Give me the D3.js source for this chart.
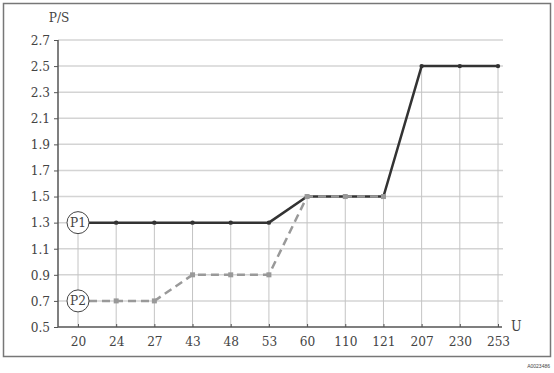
<!DOCTYPE html>
<html>
<head>
<meta charset="utf-8">
<script src="https://cdn.jsdelivr.net/npm/d3@7"></script>
<style>
  body { margin: 0; background: #fff; }
  text { font-family: "DejaVu Serif Condensed", "DejaVu Serif", serif; fill: #444; }
</style>
</head>
<body>
<div id="chart"></div>
<script>
// categories on the U axis
const categories = ["20", "24", "27", "43", "48", "53", "60", "110", "121", "207", "230", "253"];
const yTicks = [0.5, 0.7, 0.9, 1.1, 1.3, 1.5, 1.7, 1.9, 2.1, 2.3, 2.5, 2.7];
// series values
const p1Values = [1.3, 1.3, 1.3, 1.3, 1.3, 1.3, 1.5, 1.5, 1.5, 2.5, 2.5, 2.5];
const p2Values = [0.7, 0.7, 0.7, 0.9, 0.9, 0.9, 1.5, 1.5, 1.5];

var width = 554, height = 373;

var svg = d3.select("#chart")
    .append("svg")
    .attr("width", width)
    .attr("height", height);

// outer frame
svg.append("rect")
    .attr("x", 3.5)
    .attr("y", 3.5)
    .attr("width", 547)
    .attr("height", 353)
    .attr("fill", "none")
    .attr("stroke", "#777")
    .attr("stroke-width", 1.5);

svg.append("text")
    .attr("x", 550)
    .attr("y", 368)
    .attr("text-anchor", "end")
    .style("font-family", "Liberation Sans, sans-serif")
    .style("font-size", "5px")
    .text("A0023486");

var x = d3.scalePoint()
    .domain(categories)
    .range([78, 498]);

var y = d3.scaleLinear()
    .domain([0.5, 2.7])
    .range([327, 40]);

// horizontal grid
svg.append("g")
    .selectAll("line")
    .data(yTicks.slice(1))
    .join("line")
    .attr("x1", 58)
    .attr("x2", 503)
    .attr("y1", d => y(d))
    .attr("y2", d => y(d))
    .attr("stroke", "#d4d4d4")
    .attr("stroke-width", 1.5);

// vertical drop lines from top series
svg.append("g")
    .selectAll("line")
    .data(categories)
    .join("line")
    .attr("x1", d => x(d))
    .attr("x2", d => x(d))
    .attr("y1", (d, i) => y(p1Values[i]))
    .attr("y2", y(0.5))
    .attr("stroke", "#c4c4c4")
    .attr("stroke-width", 1);

// axes
var xAxis = d3.axisBottom(x).tickSize(4).tickPadding(5);
var gx = svg.append("g")
    .attr("transform", "translate(0," + y(0.5) + ")")
    .call(xAxis);
gx.select(".domain").attr("d", "M58,0H502").attr("stroke", "#555").attr("stroke-width", 1.5);
gx.selectAll(".tick line").attr("y1", -3).attr("y2", 0).attr("stroke", "#555");
gx.selectAll("text").style("font-size", "13.5px").attr("fill", "#444");

var yAxis = d3.axisLeft(y).tickValues(yTicks).tickFormat(d3.format(".1f")).tickSize(4).tickPadding(4);
var gy = svg.append("g")
    .attr("transform", "translate(58,0)")
    .call(yAxis);
gy.select(".domain").attr("d", "M0," + y(0.5) + "V" + y(2.7)).attr("stroke", "#555").attr("stroke-width", 1.5);
gy.selectAll(".tick line").attr("stroke", "#555");
gy.selectAll("text").style("font-size", "13.5px").attr("fill", "#444");

svg.append("text")
    .attr("x", 59)
    .attr("y", 22)
    .attr("text-anchor", "middle")
    .style("font-size", "13.5px")
    .text("P/S");

svg.append("text")
    .attr("x", 511)
    .attr("y", 331)
    .style("font-size", "14px")
    .text("U");

var line = d3.line()
    .x(d => d.x)
    .y(d => d.y);

const circleR = 11;

// P1 solid series
var p1Points = p1Values.map((v, i) => ({ x: x(categories[i]), y: y(v) }));
var p1Path = p1Points.slice();
p1Path[0] = { x: p1Points[0].x + circleR, y: p1Points[0].y };
svg.append("path")
    .attr("d", line(p1Path))
    .attr("fill", "none")
    .attr("stroke", "#333")
    .attr("stroke-width", 2.5);
svg.append("g")
    .selectAll("circle")
    .data(p1Points.slice(1))
    .join("circle")
    .attr("cx", d => d.x)
    .attr("cy", d => d.y)
    .attr("r", 2.2)
    .attr("fill", "#333");

// P2 dashed series (drawn on top)
var p2Points = p2Values.map((v, i) => ({ x: x(categories[i]), y: y(v) }));
var p2Path = p2Points.slice();
p2Path[0] = { x: p2Points[0].x + circleR, y: p2Points[0].y };
svg.append("path")
    .attr("d", line(p2Path))
    .attr("fill", "none")
    .attr("stroke", "#999")
    .attr("stroke-width", 2.5)
    .attr("stroke-dasharray", "8,5");
svg.append("g")
    .selectAll("rect")
    .data(p2Points.slice(1))
    .join("rect")
    .attr("x", d => d.x - 2.5)
    .attr("y", d => d.y - 2.5)
    .attr("width", 5)
    .attr("height", 5)
    .attr("fill", "#999");

// series labels
var labels = [
    { name: "P1", x: x(categories[0]), y: y(p1Values[0]) },
    { name: "P2", x: x(categories[0]), y: y(p2Values[0]) }
];
var lg = svg.append("g").selectAll("g").data(labels).join("g");
lg.append("circle")
    .attr("cx", d => d.x)
    .attr("cy", d => d.y)
    .attr("r", circleR)
    .attr("fill", "#fff")
    .attr("stroke", "#444")
    .attr("stroke-width", 1);
lg.append("text")
    .attr("x", d => d.x)
    .attr("y", d => d.y + 4.5)
    .attr("text-anchor", "middle")
    .style("font-size", "13.5px")
    .text(d => d.name);
</script>
</body>
</html>
